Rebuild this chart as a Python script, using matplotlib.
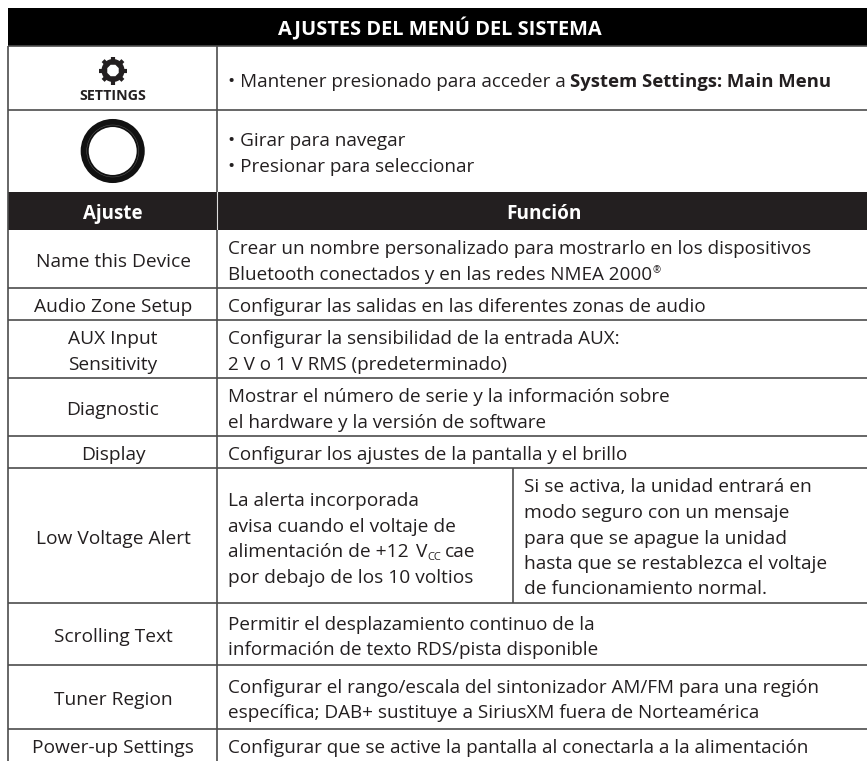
import numpy as np
import matplotlib
matplotlib.use("Agg")
import matplotlib.pyplot as plt
from matplotlib.patches import Rectangle, Circle, RegularPolygon

plt.rcParams['font.family'] = ['Open Sans', 'DejaVu Sans']

title = "AJUSTES DEL MENÚ DEL SISTEMA"
col_headers = ["Ajuste", "Función"]
settings = [["Name this Device"], ["Audio Zone Setup"], ["AUX Input", "Sensitivity"], ["Diagnostic"],
            ["Display"], ["Low Voltage Alert"], ["Scrolling Text"], ["Tuner Region"], ["Power-up Settings"]]
functions = [
    ["Crear un nombre personalizado para mostrarlo en los dispositivos",
     "Bluetooth conectados y en las redes NMEA 2000"],
    ["Configurar las salidas en las diferentes zonas de audio"],
    ["Configurar la sensibilidad de la entrada AUX:", "2 V o 1 V RMS (predeterminado)"],
    ["Mostrar el número de serie y la información sobre", "el hardware y la versión de software"],
    ["Configurar los ajustes de la pantalla y el brillo"],
    [],
    ["Permitir el desplazamiento continuo de la", "información de texto RDS/pista disponible"],
    ["Configurar el rango/escala del sintonizador AM/FM para una región",
     "específica; DAB+ sustituye a SiriusXM fuera de Norteamérica"],
    ["Configurar que se active la pantalla al conectarla a la alimentación"],
]
alert_left = ["La alerta incorporada", "avisa cuando el voltaje de",
              "alimentación de +12", "por debajo de los 10 voltios"]
alert_right = ["Si se activa, la unidad entrará en", "modo seguro con un mensaje",
               "para que se apague la unidad", "hasta que se restablezca el voltaje",
               "de funcionamiento normal."]
row_lines = [230, 287.5, 320, 377.7, 435.7, 468.3, 602.7, 665.3, 728.7, 761]

W, H = 867, 761
fig = plt.figure(figsize=(W / 100, H / 100), dpi=100)
ax = fig.add_axes([0, 0, 1, 1])
ax.set_xlim(0, W)
ax.set_ylim(H, 0)
ax.axis("off")

LEFT, SPLIT, SPLIT2, RIGHT = 8, 217, 512.5, 867
TEXT_X = 228
LINE = "#4d4d4d"
INK = "#231f20"
FS = 13.6
PITCH = 25.3
BASE = 6.5


def hline(y, x0=LEFT, x1=RIGHT):
    ax.plot([x0, x1], [y, y], color=LINE, lw=1.2, solid_capstyle="butt")


def vline(x, y0, y1):
    ax.plot([x, x], [y0, y1], color=LINE, lw=1.2, solid_capstyle="butt")


def block(x, yc, lines, ha="left", pitch=PITCH, fs=FS):
    # lines placed one by one so the pitch stays even, yc is the middle of the x-height
    out = []
    for i, s in enumerate(lines):
        base = yc + (i - (len(lines) - 1) / 2) * pitch + BASE
        out.append(ax.text(x, base, s, fontsize=fs, color=INK, ha=ha, va="baseline"))
    return out


def right_end(t):
    fig.canvas.draw()
    return t.get_window_extent().x1


# black bands
ax.add_patch(Rectangle((LEFT, 8), RIGHT - LEFT, 38, color="black", lw=0))
ax.add_patch(Rectangle((LEFT, 191.5), RIGHT - LEFT, 38.5, color=INK, lw=0))
ax.plot([SPLIT, SPLIT], [191.5, 230], color="#dddddd", lw=0.8)
ax.text(440, 29, title, color="white", fontsize=14.4, fontweight="bold", ha="center", va="center")
ax.text(113, 214, col_headers[0], color="white", fontsize=13.5, fontweight="bold", ha="center", va="center")
ax.text(544, 214, col_headers[1], color="white", fontsize=13.7, fontweight="bold", ha="center", va="center")

# icon rows
hline(46)
hline(110)
vline(LEFT, 46, H)
vline(SPLIT, 46, 191.5)

# gear
gx, gy = 113, 70.5
ax.add_patch(Circle((gx, gy), 11.5, color=INK, lw=0, zorder=3))
for a in np.arange(0, 360, 45):
    ax.plot([gx + 9 * np.cos(np.radians(a)), gx + 14 * np.cos(np.radians(a))],
            [gy + 9 * np.sin(np.radians(a)), gy + 14 * np.sin(np.radians(a))],
            color=INK, lw=3, solid_capstyle="butt", zorder=3)
ax.add_patch(RegularPolygon((gx, gy), 8, radius=6.2, orientation=np.pi / 8, color="white", lw=0, zorder=4))
ax.text(113, 96, "SETTINGS", color=INK, fontsize=10.3, fontweight="bold", ha="center", va="center")

# knob
ax.add_patch(Circle((112.7, 151), 28, facecolor="white", edgecolor="#111111", lw=5.8))
ax.add_patch(Circle((112.7, 151), 26, fill=False, edgecolor="#666666", lw=0.3, zorder=3))

ax.text(TEXT_X, 87, "• Mantener presionado para acceder a ", fontsize=FS, color=INK, ha="left", va="baseline")
ax.text(570.5, 87, "System Settings: Main Menu", fontsize=13.3, color=INK, fontweight="bold", ha="left", va="baseline")
block(TEXT_X, 152.5, ["• Girar para navegar", "• Presionar para seleccionar"])

# setting rows
for i, name in enumerate(settings):
    y0, y1 = row_lines[i], row_lines[i + 1]
    yc = (y0 + y1) / 2 + 1.7
    if i < len(settings) - 1:
        hline(y1)
    vline(SPLIT, y0, y1)
    block((LEFT + SPLIT) / 2 + 0.5, yc, name, ha="center", fs=13.8)
    texts = block(TEXT_X, yc, functions[i])
    if i == 0:
        # small raised registered sign after the last line
        end = right_end(texts[1])
        ax.text(end + 0.5, yc + PITCH / 2, "®", fontsize=7, color=INK, ha="left", va="baseline")

# low voltage row has two text cells
y0, y1 = row_lines[5], row_lines[6]
vline(SPLIT2, y0, y1)
lv_left = block(TEXT_X, 538, alert_left, pitch=25.5, fs=13.75)
block(524, 537, alert_right, pitch=25.5, fs=13.75)
base = lv_left[2].get_position()[1]
volt = ax.text(right_end(lv_left[2]) + 7, base, "V", fontsize=13.75, color=INK, ha="left", va="baseline")
cc = ax.text(right_end(volt) + 0.5, base + 3, "CC", fontsize=8, color=INK, ha="left", va="baseline")
ax.text(right_end(cc) + 4, base, "cae", fontsize=13.75, color=INK, ha="left", va="baseline")

fig.savefig("out.png", dpi=100)
